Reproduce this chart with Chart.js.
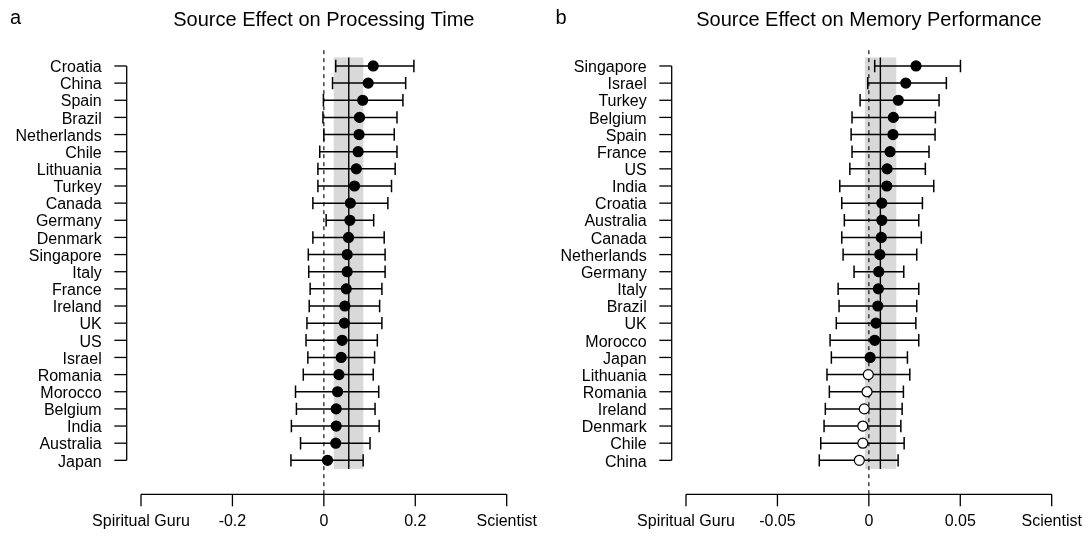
<!DOCTYPE html>
<html>
<head>
<meta charset="utf-8">
<script src="https://cdn.jsdelivr.net/npm/chart.js@4"></script>
<style>
  html, body { margin: 0; padding: 0; background: #fff; }
  #wrap { position: relative; width: 1088px; height: 536px; }
  canvas { position: absolute; top: 0; }
  #ca { left: 0; }
  #cb { left: 544px; }
</style>
</head>
<body>
<div id="wrap">
  <canvas id="ca" width="544" height="536"></canvas>
  <canvas id="cb" width="544" height="536"></canvas>
</div>
<script>
// ---------- Panel a: Processing Time ----------
const countriesA = ['Croatia','China','Spain','Brazil','Netherlands','Chile','Lithuania','Turkey','Canada','Germany','Denmark','Singapore','Italy','France','Ireland','UK','US','Israel','Romania','Morocco','Belgium','India','Australia','Japan'];
const estA = [0.108,0.097,0.085,0.078,0.077,0.075,0.071,0.067,0.058,0.057,0.054,0.051,0.051,0.049,0.046,0.045,0.040,0.038,0.033,0.030,0.027,0.027,0.026,0.008];
const loA  = [0.026,0.019,-0.001,-0.002,0.000,-0.009,-0.013,-0.013,-0.024,0.005,-0.024,-0.034,-0.033,-0.030,-0.032,-0.037,-0.039,-0.035,-0.045,-0.062,-0.060,-0.071,-0.051,-0.072];
const hiA  = [0.197,0.179,0.173,0.160,0.154,0.160,0.156,0.148,0.140,0.109,0.132,0.134,0.134,0.127,0.122,0.127,0.117,0.111,0.108,0.120,0.112,0.121,0.101,0.086];
const meanA = 0.0545;
const bandA = [0.0217, 0.0864];
const xTickValsA = [-0.4,-0.2,0,0.2,0.4];
const xTickLabsA = ['Spiritual Guru','-0.2','0','0.2','Scientist'];
const titleA = 'Source Effect on Processing Time';

// ---------- Panel b: Memory Performance ----------
const countriesB = ['Singapore','Israel','Turkey','Belgium','Spain','France','US','India','Croatia','Australia','Canada','Netherlands','Germany','Italy','Brazil','UK','Morocco','Japan','Lithuania','Romania','Ireland','Denmark','Chile','China'];
const estB = [0.0258,0.0202,0.0161,0.0134,0.0132,0.0116,0.0100,0.0098,0.0071,0.0071,0.0068,0.0060,0.0054,0.0052,0.0049,0.0039,0.0032,0.0007,-0.0003,-0.0010,-0.0025,-0.0033,-0.0033,-0.0052];
const loB  = [0.0032,-0.0006,-0.0048,-0.0092,-0.0097,-0.0092,-0.0104,-0.0159,-0.0148,-0.0134,-0.0148,-0.0141,-0.0081,-0.0168,-0.0163,-0.0178,-0.0212,-0.0205,-0.0229,-0.0216,-0.0238,-0.0245,-0.0263,-0.0271];
const hiB  = [0.0501,0.0424,0.0384,0.0364,0.0362,0.0329,0.0309,0.0355,0.0293,0.0273,0.0287,0.0262,0.0191,0.0273,0.0262,0.0257,0.0273,0.0211,0.0224,0.0189,0.0182,0.0175,0.0193,0.0160];
const meanB = 0.0063;
const bandB = [-0.0021, 0.0150];
const xTickValsB = [-0.1,-0.05,0,0.05,0.1];
const xTickLabsB = ['Spiritual Guru','-0.05','0','0.05','Scientist'];
const titleB = 'Source Effect on Memory Performance';

const FONT = "'Liberation Sans', Arial, Helvetica, sans-serif";

function buildDatasets(est, lo, hi) {
  const ds = [];
  // points (drawn on top)
  ds.push({
    type: 'scatter',
    data: est.map((v, i) => ({x: v, y: i})),
    pointRadius: 5,
    pointHoverRadius: 5,
    pointBorderWidth: 1.2,
    pointBorderColor: '#000',
    pointBackgroundColor: est.map(v => v >= 0 ? '#000' : '#fff'),
    showLine: false,
    order: 0
  });
  // caps
  const caps = [];
  lo.forEach((v, i) => { caps.push({x: v, y: i}); caps.push({x: hi[i], y: i}); });
  ds.push({
    type: 'scatter',
    data: caps,
    pointStyle: 'line',
    rotation: 90,
    pointRadius: 6.2,
    pointHoverRadius: 6.2,
    pointBorderWidth: 1.5,
    pointBorderColor: '#000',
    showLine: false,
    order: 1
  });
  // error bar lines
  lo.forEach((v, i) => {
    ds.push({
      type: 'scatter',
      data: [{x: v, y: i}, {x: hi[i], y: i}],
      showLine: true,
      borderColor: '#000',
      borderWidth: 1.5,
      pointRadius: 0,
      pointHoverRadius: 0,
      order: 2
    });
  });
  return ds;
}

function decorPlugin(cfg) {
  return {
    id: 'decor',
    beforeDatasetsDraw(chart) {
      const ctx = chart.ctx, x = chart.scales.x, y = chart.scales.y, ca = chart.chartArea;
      const n = cfg.labels.length;
      const yt = y.getPixelForValue(-0.5), yb = y.getPixelForValue(n - 0.5);
      const axisY = ca.bottom + 18.2;
      ctx.save();
      ctx.fillStyle = '#d9d9d9';
      const bx0 = x.getPixelForValue(cfg.band[0]), bx1 = x.getPixelForValue(cfg.band[1]);
      ctx.fillRect(bx0, yt, bx1 - bx0, yb - yt);
      // dashed zero line
      ctx.strokeStyle = '#222';
      ctx.lineWidth = 1.3;
      ctx.setLineDash([4, 4]);
      const x0 = x.getPixelForValue(0);
      ctx.beginPath(); ctx.moveTo(x0, ca.top); ctx.lineTo(x0, axisY); ctx.stroke();
      ctx.setLineDash([]);
      // mean line
      ctx.strokeStyle = '#000';
      ctx.lineWidth = 1.4;
      const xm = x.getPixelForValue(cfg.mean);
      ctx.beginPath(); ctx.moveTo(xm, yt); ctx.lineTo(xm, yb); ctx.stroke();
      ctx.restore();
    },
    afterDraw(chart) {
      const ctx = chart.ctx, x = chart.scales.x, y = chart.scales.y, ca = chart.chartArea;
      const n = cfg.labels.length;
      ctx.save();
      ctx.strokeStyle = '#000';
      ctx.fillStyle = '#000';
      ctx.lineWidth = 1.3;
      // y axis
      const ax = ca.left - 14.3;
      ctx.beginPath();
      ctx.moveTo(ax, y.getPixelForValue(0));
      ctx.lineTo(ax, y.getPixelForValue(n - 1));
      ctx.stroke();
      ctx.font = '16px ' + FONT;
      ctx.textAlign = 'right';
      ctx.textBaseline = 'alphabetic';
      cfg.labels.forEach((lab, i) => {
        const py = y.getPixelForValue(i);
        ctx.beginPath(); ctx.moveTo(ax, py); ctx.lineTo(ax - 12.4, py); ctx.stroke();
        ctx.fillText(lab, ax - 25, py + 6.2);
      });
      // x axis
      const axisY = ca.bottom + 18.2;
      ctx.beginPath();
      ctx.moveTo(x.getPixelForValue(cfg.xTicks[0]), axisY);
      ctx.lineTo(x.getPixelForValue(cfg.xTicks[cfg.xTicks.length - 1]), axisY);
      ctx.stroke();
      ctx.textAlign = 'center';
      cfg.xTicks.forEach((v, i) => {
        const px = x.getPixelForValue(v);
        ctx.beginPath(); ctx.moveTo(px, axisY); ctx.lineTo(px, axisY + 12); ctx.stroke();
        ctx.fillText(cfg.xLabels[i], px, axisY + 32);
      });
      // title and panel letter
      ctx.font = '20px ' + FONT;
      ctx.textAlign = 'center';
      ctx.fillText(cfg.title, (ca.left + ca.right) / 2, 25.5);
      ctx.textAlign = 'left';
      ctx.fillText(cfg.letter, cfg.letterX, 24);
      ctx.restore();
    }
  };
}

function makeChart(id, est, lo, hi, cfg, pad) {
  const n = cfg.labels.length;
  return new Chart(document.getElementById(id), {
    type: 'scatter',
    data: { datasets: buildDatasets(est, lo, hi) },
    options: {
      responsive: false,
      animation: false,
      events: [],
      layout: { padding: pad },
      plugins: { legend: { display: false }, tooltip: { enabled: false }, title: { display: false } },
      scales: {
        x: { type: 'linear', display: false, min: cfg.xTicks[0], max: cfg.xTicks[cfg.xTicks.length - 1] },
        y: { type: 'linear', display: false, reverse: true, min: -0.92, max: n - 1 + 0.92 }
      }
    },
    plugins: [decorPlugin(cfg)]
  });
}

makeChart('ca', estA, loA, hiA,
  { labels: countriesA, band: bandA, mean: meanA, xTicks: xTickValsA, xLabels: xTickLabsA, title: titleA, letter: 'a', letterX: 10 },
  { left: 141, right: 37.3, top: 50.2, bottom: 59.9 });
makeChart('cb', estB, loB, hiB,
  { labels: countriesB, band: bandB, mean: meanB, xTicks: xTickValsB, xLabels: xTickLabsB, title: titleB, letter: 'b', letterX: 11.5 },
  { left: 142, right: 36.3, top: 50.2, bottom: 59.9 });
</script>
</body>
</html>
